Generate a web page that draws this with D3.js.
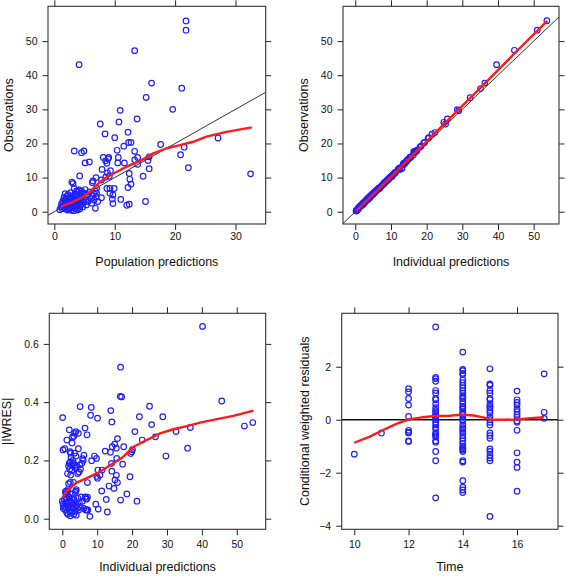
<!DOCTYPE html>
<html><head><meta charset="utf-8">
<script src="https://cdn.jsdelivr.net/npm/d3@7"></script>
<style>body{margin:0;background:#fff}svg{display:block}text{font-family:"Liberation Sans",Arial,sans-serif}</style>
</head><body><svg id="c" width="567" height="576"></svg>
<script>
// ---- Panel 1: population predictions vs observations ----
const popPredObs = [
 [21.8,55.9],[21.8,53.2],[13.3,47.2],[4.1,43.1],[16.1,37.7],[21.1,36.2],[15.2,33.5],[19.6,30.0],[10.9,29.7],[13.7,27.2],
 [10.7,26.3],[7.6,25.7],[8.4,22.8],[12.2,23.3],[10.0,21.7],[27.1,21.6],[17.6,19.7],[12.3,20.3],[12.7,20.3],[11.5,19.2],
 [10.4,18.0],[3.3,17.8],[4.9,17.8],[4.5,17.3],[13.3,17.7],[21.5,18.9],[20.9,16.7],[8.1,15.9],[9.0,15.9],[10.6,15.9],
 [13.8,15.9],[15.7,16.1],[8.5,14.9],[5.8,14.6],[5.1,14.3],[8.7,14.2],[10.5,14.3],[11.6,14.3],[13.8,13.9],[15.5,15.0],
 [15.7,12.6],[22.2,12.9],[32.5,11.1],[12.4,11.2],[14.7,10.4],[4.2,10.5],[12.5,9.5],[12.7,8.1],[12.2,7.1],[6.9,10.0],
 [6.4,9.0],[6.3,8.5],[8.5,10.1],[9.1,10.4],[8.8,11.4],[9.3,12.0],[8.7,6.8],[9.9,6.8],[9.2,6.8],[9.2,5.4],
 [9.7,4.9],[7.8,4.1],[9.6,3.7],[11.0,3.6],[9.7,2.4],[15.1,3.0],[12.4,2.2],[12.0,1.9],[6.8,1.0],[13.3,15.2],
 [8.9,15.5],[7.8,9.3],[7.0,6.9],[7.9,12.4],
 [0.9,0.6],[1.1,1.5],[1.2,2.3],[1.3,0.9],[1.4,3.1],[1.5,1.8],[1.5,2.6],[1.6,4.2],[1.7,1.2],[1.7,3.5],
 [1.8,2.0],[1.8,5.3],[1.9,0.8],[1.9,2.9],[2.0,1.5],[2.0,3.8],[2.1,2.4],[2.1,4.6],[2.2,0.5],[2.2,1.9],
 [2.3,3.2],[2.3,5.0],[2.4,1.1],[2.4,2.7],[2.5,4.1],[2.5,0.7],[2.6,2.2],[2.6,3.6],[2.7,1.6],[2.7,5.6],
 [2.8,0.4],[2.8,3.0],[2.9,8.7],[2.9,2.0],[3.0,4.4],[3.0,1.2],[3.1,8.3],[3.1,2.6],[3.2,3.8],[3.2,0.3],
 [3.3,6.8],[3.3,1.9],[3.4,3.3],[3.4,5.2],[3.5,0.9],[3.5,2.4],[3.6,4.7],[3.6,1.5],[3.7,3.0],[3.7,6.1],
 [3.8,2.1],[3.8,0.5],[3.9,4.0],[3.9,5.7],[4.0,1.3],[4.0,3.4],[4.1,2.6],[4.1,6.4],[4.2,4.6],[4.2,0.8],
 [4.3,1.9],[4.3,5.2],[4.4,3.1],[4.5,2.3],[4.5,6.0],[4.6,3.9],[4.7,1.4],[4.8,5.5],[4.9,2.8],[5.0,4.3],
 [5.1,6.5],[5.2,3.4],[5.3,2.0],[5.5,4.9],[5.6,3.0],[5.8,5.8],[6.0,3.9],[6.2,2.5],[6.3,4.6],[6.5,5.3],
 [6.6,3.4],[6.8,6.0],[6.9,4.3],[7.0,5.4],[7.2,3.0]
];
const popSmooth = [[1.1,1.5],[3.1,2.9],[4.8,4.4],[5.9,5.9],[7.0,7.8],[8.1,9.5],[9.8,11.2],[12.0,13.2],[14.2,14.9],
 [16.4,17.1],[18.6,18.6],[20.8,19.5],[23.0,20.5],[25.2,22.0],[28.5,23.4],[32.7,24.7]];

// ---- Panel 2: individual predictions vs observations ----
const indPredObs = [
 [53.7,56.0],[51.0,53.2],[44.6,47.3],[39.6,43.1],[36.3,37.7],[35.1,36.1],[32.2,33.4],[28.6,29.9],[29.0,29.6],[25.8,27.2],
 [24.8,26.2],[25.3,25.7],[22.3,23.2],[21.5,22.7],[20.6,21.7],[20.4,21.5],[19.4,20.3],[19.2,20.2],[18.5,19.3],[17.3,18.0],
 [16.8,17.7],[17.2,17.8],[16.5,17.3],[17.0,17.7],[18.1,18.9],[16.3,16.7],[15.4,16.0],[15.3,15.9],[15.5,15.9],[15.6,16.1],
 [14.5,15.0],[14.3,14.7],[13.9,14.3],[14.0,14.3],[13.6,14.2],[13.4,13.9],[12.3,12.7],[12.6,12.9],[10.9,11.1],[11.0,11.3],
 [10.2,10.5],[10.3,10.4],[9.4,9.6],[9.8,10.1],[9.2,9.5],[8.9,9.1],[8.3,8.5],[8.0,8.1],[7.0,7.1],[6.7,6.8],
 [6.8,6.9],[6.6,6.8],[5.3,5.4],[4.8,4.9],[4.1,4.1],[3.6,3.7],[3.5,3.6],[2.4,2.4],[2.9,3.0],[2.2,2.2],
 [1.9,1.9],[1.0,1.0],[16.4,17.6],[16.9,17.8],[13.1,12.7],[12.5,12.4],[14.6,15.2],[14.8,15.3],[13.5,13.8],[0.2,0.2],
 [0.3,0.4],[0.5,0.6],[0.6,0.5],[0.8,0.9],[0.9,1.2],[1.1,1.3],[1.3,1.5],[1.4,1.6],[1.6,1.8],[1.7,1.9],
 [1.9,2.1],[2.0,2.3],[2.2,2.5],[2.4,2.6],[2.5,2.8],[2.7,2.9],[2.8,3.1],[3.0,3.3],[3.1,3.4],[3.3,3.5],
 [3.4,3.8],[3.6,3.9],[3.8,4.1],[3.9,4.2],[4.1,4.4],[4.2,4.6],[4.4,4.7],[4.6,4.9],[4.7,5.1],[4.9,5.2],
 [5.1,5.4],[5.2,5.6],[5.4,5.7],[5.6,5.9],[5.7,6.0],[5.9,6.2],[6.1,6.4],[6.3,6.5],[6.5,6.8],[6.8,7.0],
 [7.1,7.3],[7.4,7.6],[7.7,7.9],[8.0,8.3],[8.3,8.6],[8.5,8.8],[8.9,9.2],[9.3,9.5],[9.6,9.9],[10.0,10.2],
 [10.5,10.8],[11.0,11.4],[11.3,11.6],[12.0,12.4],[0.4,0.3]
];
const indSmooth = [[0.3,0.3],[5,5.1],[10,10.2],[15,15.4],[20,20.6],[25,25.8],[30,31.0],[35,36.2],[40,41.5],[45,46.8],[50,52.0],[53.8,55.9]];

// ---- Panel 3: individual predictions vs |IWRES| ----
const iwresPts = [
 [40.2,0.66],[45.7,0.404],[52.2,0.318],[54.6,0.33],[35.9,0.242],[36.7,0.313],[32.6,0.299],[29.7,0.215],[28.8,0.35],[26.7,0.281],
 [25.6,0.323],[25.0,0.386],[22.9,0.27],[22.1,0.35],[21.4,0.06],[20.8,0.299],[19.9,0.23],[20.1,0.237],[19.6,0.224],[19.4,0.144],
 [18.5,0.085],[17.6,0.247],[17.3,0.187],[16.7,0.52],[16.6,0.42],[17.0,0.418],[16.7,0.064],[15.5,0.242],[15.8,0.275],[15.6,0.207],
 [15.5,0.149],[15.1,0.133],[15.8,0.124],[15.0,0.256],[14.3,0.247],[14.2,0.332],[13.9,0.371],[13.8,0.228],[14.1,0.19],[14.2,0.163],
 [14.8,0.104],[13.4,0.112],[12.9,0.023],[12.6,0.066],[12.3,0.232],[11.4,0.167],[11.3,0.095],[10.8,0.15],[10.2,0.167],[10.1,0.139],
 [9.9,0.145],[10.3,0.033],[9.6,0.05],[9.8,0.207],[9.2,0.215],[10.1,0.345],[8.1,0.355],[8.3,0.382],[8.4,0.199],[7.9,0.008],
 [7.2,0.124],[7.1,0.288],[6.5,0.311],[7.2,0.074],[6.8,0.068],[7.3,0.03],[6.7,0.03],[6.0,0.2],[5.8,0.206],[6.2,0.218],
 [5.1,0.385],[4.6,0.293],[3.9,0.299],[3.5,0.293],[2.9,0.28],[3.3,0.283],
 [1.3,0.27],[2.0,0.305],[2.2,0.23],[2.4,0.225],[2.5,0.21],[2.3,0.195],[2.0,0.19],[1.8,0.18],[2.6,0.185],[3.0,0.2],
 [3.3,0.19],[3.6,0.185],[2.1,0.17],[2.7,0.165],[1.5,0.155],[2.4,0.15],[3.8,0.175],[4.1,0.18],[4.4,0.155],[4.8,0.16],
 [5.2,0.17],[3.5,0.225],[3.9,0.215],[5.6,0.19],[4.6,0.24],[5.0,0.185],[2.8,0.26],[3.2,0.125],[4.0,0.1],[3.7,0.09],
 [1.8,0.12],[1.2,0.095],[0.9,0.093],[0.2,0.236],[0.7,0.24],[0.1,0.347],[2.3,0.125],[1.6,0.1],
 [0.0,0.06],[0.2,0.05],[0.3,0.035],[0.5,0.04],[0.6,0.065],[0.8,0.03],[0.9,0.055],[1.1,0.04],[1.2,0.07],[1.3,0.02],
 [1.4,0.05],[1.6,0.015],[1.7,0.035],[1.8,0.06],[1.9,0.075],[2.0,0.025],[2.1,0.045],[2.2,0.065],[2.3,0.01],[2.5,0.04],
 [2.6,0.055],[2.7,0.02],[2.8,0.07],[3.0,0.035],[3.1,0.05],[3.3,0.015],[3.4,0.065],[3.5,0.04],[3.7,0.025],[3.8,0.055],
 [4.0,0.012],[4.1,0.045],[4.3,0.035],[4.5,0.07],[4.7,0.03],[4.9,0.055],[5.1,0.04],[5.4,0.075],[5.8,0.06],[6.2,0.035],
 [6.6,0.075],[6.9,0.03],[7.1,0.03],[7.0,0.068],[1.0,0.085],[3.9,0.095],[2.9,0.085]
];
const iwresSmooth = [[0.1,0.073],[1.2,0.093],[2.7,0.11],[4.1,0.124],[7.0,0.139],[10.8,0.161],[14.6,0.19],[17.5,0.213],
 [20.4,0.247],[24.2,0.27],[28.0,0.293],[31.8,0.307],[35.7,0.318],[39.5,0.33],[43.3,0.339],[49.0,0.353],[54.8,0.371]];

// ---- Panel 4: time vs CWRES ----
const cwresPts = [
 [10,-1.3],[11,-0.5],
 [12,1.17],[12,1.05],[12,0.8],[12,0.55],[12,0.12],[12,-0.4],[12,-0.47],[12,-0.5],[12,-0.8],[12,-0.82],
 [13,3.5],[13,1.6],[13,1.55],[13,1.45],[13,1.1],[13,1.0],[13,0.8],[13,0.75],[13,0.6],[13,0.45],[13,0.35],[13,0.3],
 [13,0.2],[13,0.15],[13,0.1],[13,0.05],[13,0.0],[13,-0.1],[13,-0.2],[13,-0.3],[13,-0.35],[13,-0.5],[13,-0.55],[13,-0.6],
 [13,-0.65],[13,-0.8],[13,-0.85],[13,-1.2],[13,-1.55],[13,-2.95],
 [14,2.55],[14,1.9],[14,1.85],[14,1.75],[14,1.7],[14,1.5],[14,1.4],[14,1.3],[14,1.2],[14,1.1],[14,1.0],[14,0.9],
 [14,0.85],[14,0.8],[14,0.7],[14,0.6],[14,0.5],[14,0.45],[14,0.4],[14,0.3],[14,0.25],[14,0.2],[14,0.1],[14,0.0],
 [14,-0.05],[14,-0.2],[14,-0.3],[14,-0.35],[14,-0.45],[14,-0.5],[14,-0.6],[14,-0.7],[14,-0.8],[14,-0.9],[14,-1.0],[14,-1.05],
 [14,-1.1],[14,-1.15],[14,-1.2],[14,-1.55],[14,-1.6],[14,-2.3],[14,-2.55],[14,-2.65],[14,-2.75],
 [15,1.92],[15,1.35],[15,1.3],[15,1.1],[15,1.0],[15,0.8],[15,0.75],[15,0.6],[15,0.5],[15,0.45],[15,0.35],[15,0.25],
 [15,0.1],[15,0.0],[15,-0.1],[15,-0.2],[15,-0.5],[15,-0.6],[15,-0.7],[15,-1.1],[15,-1.2],[15,-1.35],[15,-1.45],[15,-1.55],[15,-3.65],
 [16,1.08],[16,0.75],[16,0.65],[16,0.55],[16,0.4],[16,0.3],[16,0.2],[16,0.1],[16,-0.05],[16,-0.1],[16,-0.4],[16,-1.25],
 [16,-1.6],[16,-1.8],[16,-2.7],
 [17,1.73],[17,0.28],[17,0.05]
];
const cwresSmooth = [[10,-0.87],[10.57,-0.64],[11.06,-0.39],[11.55,-0.16],[12.02,0.01],[12.5,0.09],[13.0,0.14],[13.5,0.15],
 [14.0,0.19],[14.4,0.16],[14.75,0.09],[15.0,0.01],[15.5,0.0],[16.0,0.01],[16.5,0.06],[17.0,0.09]];

// tick values
const ticksObs = [0,10,20,30,40,50];
const ticksPred1 = [0,10,20,30];
const ticksPred2 = [0,10,20,30,40,50];
const ticksIwres = [0,0.2,0.4,0.6];
const ticksTime = [10,12,14,16];
const ticksCwres = [-4,-2,0,2];

const svg = d3.select("#c");
const panels = [
 {r:[48,6.3,265.7,224], xd:[-1.05,35.0], yd:[-3.6,60.2], xt:ticksPred1, yt:ticksObs, yf:d3.format("d"),
  pts:popPredObs, sm:popSmooth, ref:"id", xl:"Population predictions", yl:"Observations", ylx:13, xly:266, tp:3},
 {r:[343,6.3,559,224], xd:[-3.45,57.1], yd:[-3.6,60.2], xt:ticksPred2, yt:ticksObs, yf:d3.format("d"),
  pts:indPredObs, sm:indSmooth, ref:"id", xl:"Individual predictions", yl:"Observations", ylx:308, xly:266, tp:3},
 {r:[49.3,313.3,265.7,529.3], xd:[-3.73,58.3], yd:[-0.0364,0.705], xt:ticksPred2, yt:ticksIwres, yf:d3.format(".1f"),
  pts:iwresPts, sm:iwresSmooth, ref:null, xl:"Individual predictions", yl:"|IWRES|", ylx:10.5, xly:571, tp:5},
 {r:[341.7,313.3,558,529.3], xd:[9.535,17.51], yd:[-4.136,4.015], xt:ticksTime, yt:ticksCwres, yf:d3.format("d"),
  pts:cwresPts, sm:cwresSmooth, ref:"h0", xl:"Time", yl:"Conditional weighted residuals", ylx:309, xly:571, tp:5}
];

panels.forEach((p,i)=>{
  const [x0,y0,x1,y1] = p.r;
  const x = d3.scaleLinear().domain(p.xd).range([x0,x1]);
  const y = d3.scaleLinear().domain(p.yd).range([y1,y0]);
  const cid = "clip"+i;
  svg.append("clipPath").attr("id",cid).append("rect").attr("x",x0).attr("y",y0).attr("width",x1-x0).attr("height",y1-y0);
  const g = svg.append("g");
  const styleAxis = a => { a.select(".domain").remove(); a.selectAll(".tick line").attr("stroke","#222");
    a.selectAll("text").attr("font-size","10.5px").attr("fill","#111").attr("font-family",'"Liberation Sans",Arial,sans-serif'); };
  g.append("g").attr("transform",`translate(0,${y1})`).call(d3.axisBottom(x).tickValues(p.xt).tickSize(6).tickPadding(p.tp).tickFormat(d3.format("d"))).call(styleAxis);
  g.append("g").attr("transform",`translate(0,${y0})`).call(d3.axisTop(x).tickValues(p.xt).tickSize(6).tickFormat("")).call(styleAxis);
  g.append("g").attr("transform",`translate(${x0},0)`).call(d3.axisLeft(y).tickValues(p.yt).tickSize(5.5).tickPadding(5).tickFormat(p.yf)).call(styleAxis);
  g.append("g").attr("transform",`translate(${x1},0)`).call(d3.axisRight(y).tickValues(p.yt).tickSize(5.5).tickFormat("")).call(styleAxis);
  const plot = g.append("g").attr("clip-path",`url(#${cid})`);
  if (p.ref==="id") {
    const lo = Math.min(p.xd[0],p.yd[0]), hi = Math.max(p.xd[1],p.yd[1]);
    plot.append("line").attr("x1",x(lo)).attr("y1",y(lo)).attr("x2",x(hi)).attr("y2",y(hi)).attr("stroke","#333").attr("stroke-width",1);
  } else if (p.ref==="h0") {
    plot.append("line").attr("x1",x0).attr("x2",x1).attr("y1",y(0)).attr("y2",y(0)).attr("stroke","#111").attr("stroke-width",1.5);
  }
  plot.selectAll("circle").data(p.pts).join("circle")
    .attr("cx",d=>x(d[0])).attr("cy",d=>y(d[1])).attr("r",2.8)
    .attr("fill","none").attr("stroke","#1f1fff").attr("stroke-width",1.2);
  plot.append("path").datum(p.sm).attr("d",d3.line().x(d=>x(d[0])).y(d=>y(d[1])))
    .attr("fill","none").attr("stroke","#ff1a1a").attr("stroke-width",2.4).attr("stroke-linejoin","round");
  g.append("rect").attr("x",x0).attr("y",y0).attr("width",x1-x0).attr("height",y1-y0)
    .attr("fill","none").attr("stroke","#333").attr("stroke-width",1.1);
  g.append("text").attr("x",(x0+x1)/2).attr("y",p.xly).attr("text-anchor","middle").attr("font-size","12.5px").attr("fill","#111").text(p.xl);
  g.append("text").attr("transform",`translate(${p.ylx},${(y0+y1)/2}) rotate(-90)`).attr("text-anchor","middle").attr("font-size","12.5px").attr("fill","#111").text(p.yl);
});
</script></body></html>
